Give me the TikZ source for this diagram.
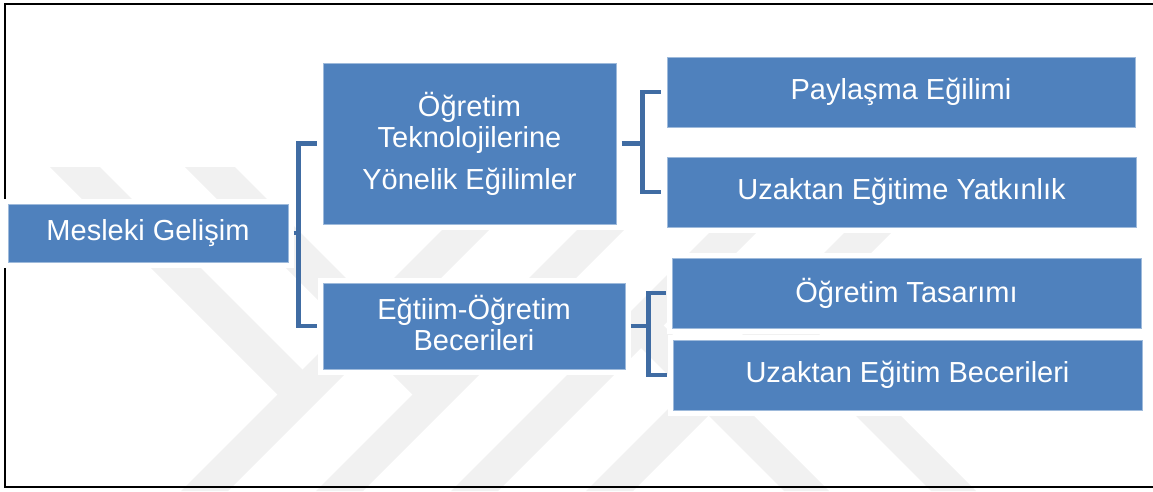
\documentclass[tikz,border=0pt]{standalone}
\usepackage{fontspec}
\setmainfont{Liberation Sans}
\usepackage{xcolor}
\usepackage{tikz}

\definecolor{boxblue}{RGB}{79,129,189}
\definecolor{linkblue}{RGB}{64,108,163}
\definecolor{markgray}{RGB}{241,241,241}

\begin{document}
\begin{tikzpicture}[x=1pt, y=-1pt,
    box/.style={rectangle, fill=boxblue, draw=boxblue!55!white, line width=0.8pt,
        text=white, align=center, inner sep=0pt, font=\fontsize{29}{31}\selectfont,
        preaction={draw=white, line width=11pt}},
    link/.style={draw=linkblue, line width=4.6pt, shorten <=5.5pt, shorten >=6pt}]

    \useasboundingbox (0,0) rectangle (1153,491);

    % Watermark
    \fill[markgray] (50,167) -- (100,167) -- (314,381) -- (289,406) -- cycle;
    \fill[markgray] (185,167) -- (235,167) -- (449,381) -- (424,406) -- cycle;
    \fill[markgray] (442,230) -- (489,230) -- (228,491) -- (181,491) -- cycle;
    \fill[markgray] (577,230) -- (624,230) -- (363,491) -- (316,491) -- cycle;
    \fill[markgray] (712,230) -- (759,230) -- (498,491) -- (451,491) -- cycle;
    \fill[markgray] (847,230) -- (894,230) -- (633,491) -- (586,491) -- cycle;
    \fill[markgray] (629,336) -- (651.5,313.5) -- (829,491) -- (784,491) -- cycle;
    \fill[markgray] (770,330) -- (792.5,307.5) -- (976,491) -- (931,491) -- cycle;

    % Frame
    \draw[line width=1.5pt] (1153,4) -- (5,4) -- (5,487) -- (1153,487);

    % Boxes
    \node[box, minimum width=280pt, minimum height=58pt] (mesleki) at (148,233) {Mesleki Gelişim};
    \node[box, minimum width=293pt, minimum height=161pt] (ogretim) at (469.5,143.5)
        {Öğretim\\Teknolojilerine\\[11pt]Yönelik Eğilimler};
    \node[box, minimum width=302pt, minimum height=86pt] (egitim) at (474,326)
        {Eğtiim-Öğretim\\Becerileri\rule[-7pt]{0pt}{7pt}};
    \node[box, minimum width=468pt, minimum height=70pt] (paylasma) at (901,92) {Paylaşma Eğilimi};
    \node[box, minimum width=469pt, minimum height=70pt] (yatkinlik) at (901.5,192) {Uzaktan Eğitime Yatkınlık};
    \node[box, minimum width=469pt, minimum height=70pt] (tasarim) at (906.5,293) {Öğretim Tasarımı};
    \node[box, minimum width=469pt, minimum height=70pt] (beceri) at (907.5,375) {Uzaktan Eğitim Becerileri};

    % Connectors
    \draw[link] (mesleki.east) -- ++(10,0) |- (ogretim.west);
    \draw[link] (mesleki.east) -- ++(10,0) |- (egitim.west);
    \draw[link] (ogretim.east) -- ++(26,0) |- (paylasma.west);
    \draw[link] (ogretim.east) -- ++(26,0) |- (yatkinlik.west);
    \draw[link] (egitim.east) -- ++(23,0) |- (tasarim.west);
    \draw[link] (egitim.east) -- ++(23,0) |- (beceri.west);

\end{tikzpicture}
\end{document}
